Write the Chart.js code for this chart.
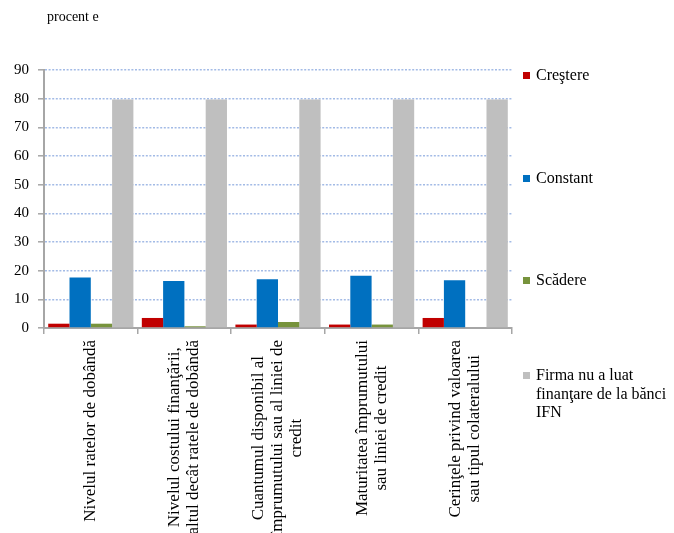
<!DOCTYPE html>
<html>
<head>
<meta charset="utf-8">
<script src="https://cdn.jsdelivr.net/npm/chart.js@4"></script>
<style>
  body { margin: 0; background: #fff; overflow: hidden; font-family: "Liberation Serif", "Times New Roman", serif; color: #000; }
  #wrap { position: relative; width: 674px; height: 533px; overflow: hidden; }
  #unit { position: absolute; left: 47px; top: 9px; font-size: 14px; }
  #legend { position: absolute; left: 523px; top: 0; }
  .item { position: absolute; left: 0; font-size: 16px; line-height: 18.5px; white-space: nowrap; }
  .box { position: absolute; left: 0; top: 6px; width: 7px; height: 7px; }
  .txt { position: absolute; left: 13px; top: 0; }
</style>
</head>
<body>
<div id="wrap">
  <div id="unit">procent e</div>
  <canvas id="myChart" width="674" height="533"></canvas>
  <div id="legend"></div>
</div>
<script>
const categories = [
    ['Nivelul ratelor de dobândă'],
    ['Nivelul costului finanţării,', 'altul decât ratele de dobândă'],
    ['Cuantumul disponibil al', 'împrumutului sau al liniei de', 'credit'],
    ['Maturitatea împrumutului', 'sau liniei de credit'],
    ['Cerinţele privind valoarea', 'sau tipul colateralului']
];
const crestere = [1.5, 3.5, 1.2, 1.2, 3.5];
const constant = [17.6, 16.4, 17.0, 18.2, 16.7];
const scadere = [1.5, 0.6, 2.1, 1.2, 0];
const faraFinantare = [79.7, 79.7, 79.7, 79.7, 79.7];
const yTicks = [0, 10, 20, 30, 40, 50, 60, 70, 80, 90];

const legendTops = [66, 169, 271, 366];

// x labels drawn rotated, lines centred like in the original
const xLabels = {
    id: 'xLabels',
    afterDraw(chart) {
        const ctx = chart.ctx;
        const scale = chart.scales.x;
        const lh = 19;
        ctx.save();
        ctx.font = '17px "Liberation Serif"';
        ctx.fillStyle = '#000';
        ctx.textAlign = 'center';
        ctx.textBaseline = 'middle';
        categories.forEach((lines, i) => {
            const x = scale.getPixelForTick(i);
            const maxW = Math.max(...lines.map(l => ctx.measureText(l).width));
            ctx.save();
            ctx.translate(x, scale.top + 12);
            ctx.rotate(-Math.PI / 2);
            lines.forEach((l, j) => {
                ctx.fillText(l, -maxW / 2, (j - (lines.length - 1) / 2) * lh);
            });
            ctx.restore();
        });
        ctx.restore();
    }
};

const ctx = document.getElementById('myChart').getContext('2d');
const myChart = new Chart(ctx, {
    type: 'bar',
    data: {
        labels: categories,
        datasets: [
            { label: ['Creştere'], data: crestere, backgroundColor: '#C00000' },
            { label: ['Constant'], data: constant, backgroundColor: '#0070C0' },
            { label: ['Scădere'], data: scadere, backgroundColor: '#77933C' },
            { label: ['Firma nu a luat', 'finanţare de la bănci', 'IFN'], data: faraFinantare, backgroundColor: '#BFBFBF' }
        ]
    },
    options: {
        responsive: false,
        animation: false,
        layout: { padding: { top: 70, right: 162, left: 0, bottom: 0 } },
        datasets: { bar: { categoryPercentage: 0.91, barPercentage: 1 } },
        plugins: { legend: { display: false }, tooltip: { enabled: false } },
        scales: {
            x: {
                grid: { display: true, offset: true, drawOnChartArea: false, drawTicks: true, tickLength: 6, color: '#A6A6A6', lineWidth: 1.5 },
                border: { color: '#A6A6A6', width: 2 },
                ticks: { color: 'rgba(0,0,0,0)', minRotation: 90, maxRotation: 90, autoSkip: false },
                afterFit(scale) { scale.height = 205; }
            },
            y: {
                min: 0,
                max: 90,
                afterBuildTicks(scale) { scale.ticks = yTicks.map(v => ({ value: v })); },
                afterFit(scale) { scale.width = 44; },
                grid: { color: '#A3BBE6', lineWidth: 1.6, tickColor: '#A6A6A6', tickLength: 6, tickWidth: 1.5 },
                border: { color: '#A6A6A6', width: 2, dash: [2, 1.6] },
                ticks: { color: '#000', padding: 9, font: { family: '"Liberation Serif"', size: 15 } }
            }
        }
    },
    plugins: [xLabels]
});

// legend on the right, built from the datasets
const legend = document.getElementById('legend');
myChart.data.datasets.forEach((ds, i) => {
    const item = document.createElement('div');
    item.className = 'item';
    item.style.top = legendTops[i] + 'px';
    const box = document.createElement('span');
    box.className = 'box';
    box.style.background = ds.backgroundColor;
    const txt = document.createElement('span');
    txt.className = 'txt';
    txt.innerHTML = ds.label.join('<br>');
    item.appendChild(box);
    item.appendChild(txt);
    legend.appendChild(item);
});
</script>
</body>
</html>
